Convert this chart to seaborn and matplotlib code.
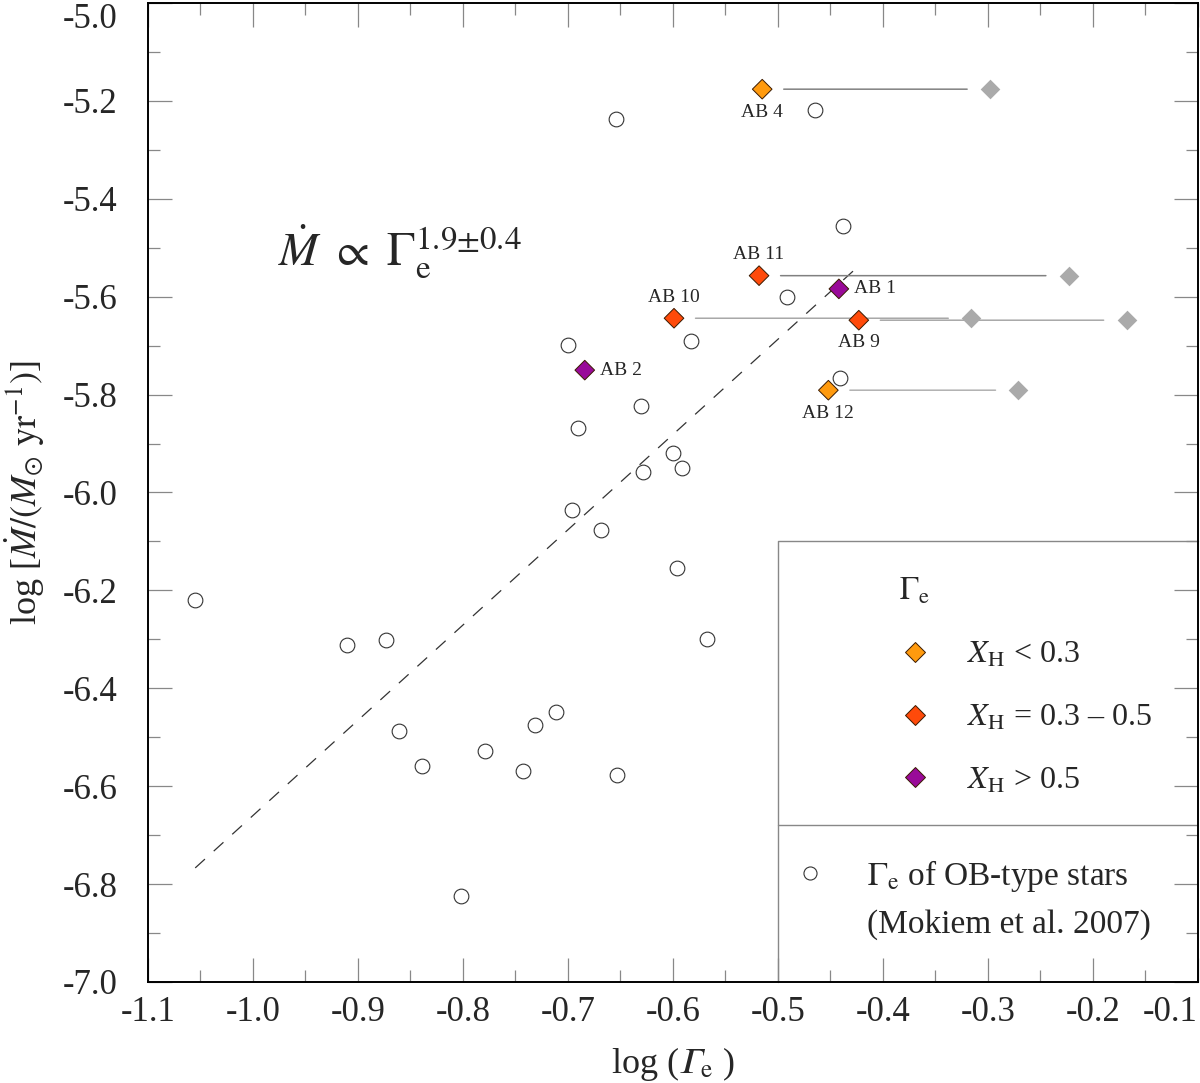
import numpy as np
import pandas as pd
import matplotlib
matplotlib.use("Agg")
import matplotlib.pyplot as plt
from matplotlib.lines import Line2D
from matplotlib.ticker import MultipleLocator
import seaborn as sns

# OB-type stars (Mokiem et al. 2007): log Gamma_e, log Mdot
ob_log_gamma = [-0.654, -0.465, -0.438, -0.491, -0.583, -0.700, -0.441, -0.630, -0.690,
                -0.600, -0.591, -0.629, -0.696, -0.669, -0.596, -1.055, -0.568, -0.910,
                -0.873, -0.861, -0.839, -0.779, -0.743, -0.731, -0.711, -0.653, -0.802]
ob_log_mdot = [-5.236, -5.219, -5.455, -5.601, -5.690, -5.698, -5.766, -5.824, -5.869,
               -5.920, -5.950, -5.958, -6.036, -6.076, -6.154, -6.220, -6.300, -6.311,
               -6.301, -6.488, -6.559, -6.529, -6.568, -6.476, -6.448, -6.578, -6.824]

# WN stars
star_names = ["AB 1", "AB 2", "AB 4", "AB 9", "AB 10", "AB 11", "AB 12"]
star_log_gamma = [-0.442, -0.684, -0.515, -0.423, -0.599, -0.518, -0.452]
star_log_mdot = [-5.584, -5.750, -5.176, -5.648, -5.644, -5.557, -5.791]
star_xh = ["high", "high", "low", "mid", "mid", "mid", "low"]
# second Gamma_e estimate (grey diamonds), nan where there is none
star_log_gamma_alt = [np.nan, np.nan, -0.298, -0.168, -0.316, -0.223, -0.271]

# dashed fit  Mdot ~ Gamma_e^1.9
fit_log_gamma = [-1.055, -0.424]
fit_log_mdot = [-6.767, -5.539]

xh_levels = ["low", "mid", "high"]
xh_labels = [r"$X_\mathrm{H}$ < 0.3", r"$X_\mathrm{H}$ = 0.3 – 0.5", r"$X_\mathrm{H}$ > 0.5"]
xh_palette = {"low": "#FF9A0E", "mid": "#FF4A0A", "high": "#990A99"}
edge_col = "#3a1a00"

# label placement (offset in points, alignment)
label_pos = {
    "AB 1": (11, 0, "left", "center"),
    "AB 2": (11, 0, "left", "center"),
    "AB 4": (0, -17, "center", "center"),
    "AB 9": (0, -16, "center", "center"),
    "AB 10": (0, 15, "center", "center"),
    "AB 11": (0, 15, "center", "center"),
    "AB 12": (0, -16.5, "center", "center"),
}
link_col = {"AB 4": "#808080", "AB 9": "#a8a8a8", "AB 10": "#a8a8a8",
            "AB 11": "#808080", "AB 12": "#b0b0b0"}

stars = pd.DataFrame({
    "name": star_names,
    "log_gamma": star_log_gamma,
    "log_mdot": star_log_mdot,
    "xh": star_xh,
    "log_gamma_alt": star_log_gamma_alt,
})

sns.set_theme(style="ticks")
plt.rcParams["font.family"] = ["Liberation Serif", "DejaVu Serif"]
plt.rcParams["mathtext.fontset"] = "stix"
plt.rcParams["axes.unicode_minus"] = False

fig = plt.figure(figsize=(12, 10.83), dpi=100)
ax = fig.add_axes([0.1233, 0.0933, 0.875, 0.9039])

# fit line
ax.plot(fit_log_gamma, fit_log_mdot, color="#333333", lw=0.9,
        ls=(0, (10.5, 9.5)), zorder=2)

# OB stars
sns.scatterplot(x=ob_log_gamma, y=ob_log_mdot, marker="o", s=112, color="white",
                edgecolor="#333333", linewidth=0.8, ax=ax, zorder=3)

# links to the alternative Gamma_e
alt = stars.dropna(subset=["log_gamma_alt"])
for _, r in alt.iterrows():
    ax.annotate("", xy=(r.log_gamma_alt, r.log_mdot), xytext=(r.log_gamma, r.log_mdot),
                arrowprops=dict(arrowstyle="-", color=link_col[r["name"]], lw=1.1,
                                shrinkA=15.5, shrinkB=16.5), zorder=2)

sns.scatterplot(data=alt, x="log_gamma_alt", y="log_mdot", marker="D", s=100,
                color="#aaaaaa", linewidth=0, ax=ax, zorder=4)
sns.scatterplot(data=stars, x="log_gamma", y="log_mdot", hue="xh", palette=xh_palette,
                hue_order=xh_levels, marker="D", s=100, edgecolor=edge_col,
                linewidth=0.7, legend=False, ax=ax, zorder=5)

for _, r in stars.iterrows():
    dx, dy, ha, va = label_pos[r["name"]]
    ax.annotate(r["name"], (r.log_gamma, r.log_mdot), xytext=(dx, dy),
                textcoords="offset points", ha=ha, va=va, fontsize=14, zorder=6)

ax.text(-0.976, -5.539, r"$\dot{M}\ \propto\ \Gamma_\mathrm{e}^{1.9{\pm}0.4}$",
        fontsize=34, ha="left", va="baseline")

# legend box with divider
box_left, box_top, box_div = -0.5, -6.1, -6.68
ax.plot([box_left, box_left, -0.1], [-7.0, box_top, box_top], color="#888888", lw=1.0,
        zorder=1, clip_on=False)
ax.plot([box_left, -0.1], [box_div, box_div], color="#888888", lw=1.0, zorder=1)

xh_handles = [Line2D([], [], ls="none", marker="D", markersize=10,
                     markerfacecolor=xh_palette[k], markeredgecolor=edge_col,
                     markeredgewidth=0.7) for k in xh_levels]
leg1 = ax.legend(handles=xh_handles, labels=xh_labels, title=r"$\Gamma_\mathrm{e}$",
                 loc="upper left", bbox_to_anchor=(0.715, 0.414), frameon=False,
                 fontsize=23, title_fontsize=23, alignment="left", handlelength=1.0,
                 handletextpad=1.15, labelspacing=1.05, borderpad=0, borderaxespad=0)
ax.add_artist(leg1)

ob_handles = [Line2D([], [], ls="none", marker="o", markersize=9.4, markerfacecolor="white",
                     markeredgecolor="#333333", markeredgewidth=0.8),
              Line2D([], [], ls="none")]
ax.legend(handles=ob_handles,
          labels=[r"$\Gamma_\mathrm{e}$ of OB-type stars", "(Mokiem et al. 2007)"],
          loc="upper left", bbox_to_anchor=(0.615, 0.127), frameon=False, fontsize=24,
          handlelength=1.0, handletextpad=1.2, labelspacing=0.47, borderpad=0,
          borderaxespad=0)

# axes
ax.set_xlim(-1.1, -0.1)
ax.set_ylim(-7.0, -5.0)
xticks = np.round(np.arange(-1.1, -0.05, 0.1), 1)
yticks = np.round(np.arange(-7.0, -4.95, 0.2), 1)
ax.set_xticks(xticks, [f"{v:.1f}" for v in xticks])
ax.set_yticks(yticks, [f"{v:.1f}" for v in yticks])
ax.xaxis.set_minor_locator(MultipleLocator(0.05))
ax.yaxis.set_minor_locator(MultipleLocator(0.1))
ax.get_xticklabels()[-1].set_ha("right")
ax.get_yticklabels()[-1].set_va("top")
ax.tick_params(which="both", direction="in", top=True, right=True, color="#888888",
               width=0.9)
ax.tick_params(which="major", length=17)
ax.tick_params(which="minor", length=8.5)
ax.tick_params(axis="x", labelsize=25, pad=10)
ax.tick_params(axis="y", labelsize=25, pad=22)
for sp in ax.spines.values():
    sp.set_color("black")
    sp.set_linewidth(1.4)

ax.set_xlabel("log ($𝛤_\\mathrm{e}$ )", fontsize=26)
ax.set_ylabel(r"log [$\dot{M}/(M_{\odot}\ \mathrm{yr}^{-1})$]", fontsize=26)
ax.xaxis.set_label_coords(0.5, -0.064)
ax.yaxis.set_label_coords(-0.096, 0.5)

fig.savefig("out.png", dpi=100)
